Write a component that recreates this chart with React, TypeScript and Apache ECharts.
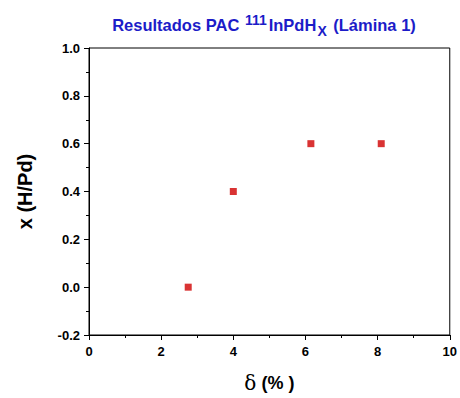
import React, { useEffect, useRef } from "react";
import * as echarts from "echarts";

const deltaPct = [2.75, 4.0, 6.15, 8.1];
const xHPd = [0.0, 0.4, 0.6, 0.6];
const yTicks = [-0.2, 0.0, 0.2, 0.4, 0.6, 0.8, 1.0];

export default function App() {
  const ref = useRef<HTMLDivElement>(null);
  useEffect(() => {
    if (!ref.current) return;
    const chart = echarts.init(ref.current, null, { renderer: "svg" });
    const font = "Liberation Sans, Arial, sans-serif";
    const blue = "#1c1cc8";
    chart.setOption({
      animation: false,
      backgroundColor: "#fff",
      title: {
        text: "{a|Resultados PAC }{sup|111}{a|InPdH}{sub|X}{a| (Lámina 1)}",
        left: 259,
        textAlign: "center",
        top: 7,
        textStyle: {
          rich: {
            a: { fontFamily: font, fontWeight: "bold", fontSize: 16.5, color: blue, lineHeight: 26, verticalAlign: "middle" },
            sup: { fontFamily: font, fontWeight: "bold", fontSize: 14, color: blue, verticalAlign: "middle", lineHeight: 26, padding: [0, 2, 10, 1] },
            sub: { fontFamily: font, fontWeight: "bold", fontSize: 14, color: blue, verticalAlign: "middle", lineHeight: 26, padding: [12, 2, 0, 1] },
          },
        },
      },
      grid: {
        left: 89,
        right: 8,
        top: 48,
        bottom: 58,
        show: true,
        borderColor: "#000",
        borderWidth: 1,
      },
      xAxis: {
        type: "value",
        min: 0,
        max: 10,
        interval: 2,
        name: "{d|δ}{b| (% )}",
        nameLocation: "middle",
        nameGap: 38,
        nameTextStyle: {
          rich: {
            d: { fontFamily: "DejaVu Serif, serif", fontSize: 20, color: "#000" },
            b: { fontFamily: font, fontSize: 18, fontWeight: "bold", color: "#000" },
          },
        },
        axisLine: { show: true, onZero: false, lineStyle: { color: "#000", width: 1 } },
        axisTick: { show: true, length: 5, lineStyle: { color: "#000" } },
        minorTick: { show: true, splitNumber: 2, length: 3, lineStyle: { color: "#000" } },
        splitLine: { show: false },
        axisLabel: { fontFamily: font, fontSize: 13, fontWeight: "bold", color: "#000", margin: 10 },
      },
      yAxis: {
        type: "value",
        min: -0.2,
        max: 1.0,
        interval: 0.2,
        name: "x (H/Pd)",
        nameLocation: "middle",
        nameGap: 54,
        nameTextStyle: { fontFamily: font, fontSize: 20, fontWeight: "bold", color: "#000" },
        axisLine: { show: true, onZero: false, lineStyle: { color: "#000", width: 1 } },
        axisTick: { show: true, length: 5, lineStyle: { color: "#000" } },
        minorTick: { show: true, splitNumber: 2, length: 3, lineStyle: { color: "#000" } },
        splitLine: { show: false },
        axisLabel: {
          fontFamily: font,
          fontSize: 13,
          fontWeight: "bold",
          color: "#000",
          margin: 9,
          formatter: (v: number) => {
            const t = yTicks.find((y) => Math.abs(y - v) < 1e-9);
            return (t !== undefined ? t : v).toFixed(1);
          },
        },
      },
      series: [
        {
          type: "scatter",
          symbol: "rect",
          symbolSize: 7,
          itemStyle: { color: "#d00000" },
          data: deltaPct.map((d, i) => [d, xHPd[i]]),
        },
      ],
    });
    return () => chart.dispose();
  }, []);
  return <div ref={ref} style={{ position: "fixed", left: 0, top: 0, width: 460, height: 398 }} />;
}
